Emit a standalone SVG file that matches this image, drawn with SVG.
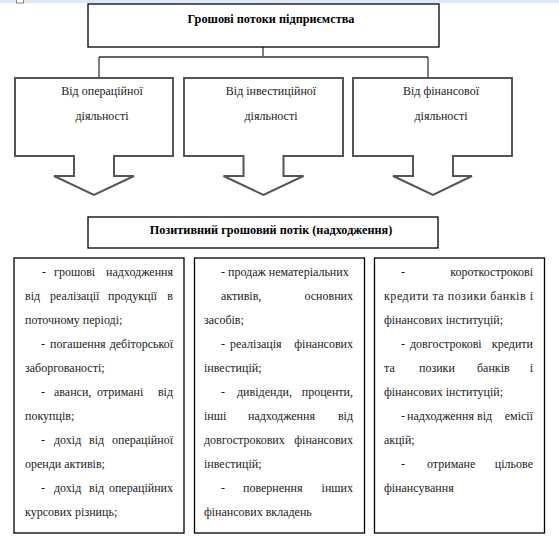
<svg xmlns="http://www.w3.org/2000/svg" width="559" height="543" viewBox="0 0 559 543">
<style>
.box{fill:#fff;stroke:#000;stroke-width:1.3}
.abox{fill:#fff;stroke:#555;stroke-width:2;stroke-linejoin:miter}
text{font-family:"Liberation Serif","Times New Roman",serif;font-size:12px}
.t{fill:#1a1a1a}
.b{font-weight:bold;fill:#000;font-size:12.25px}
.c{text-anchor:middle}
.e{text-anchor:end}
</style>
<rect x="0" y="0" width="559" height="543" fill="#fff"/>
<g id="ruler">
<rect x="0" y="0" width="559" height="3" fill="#dce6f4"/>
<rect x="16.5" y="-1" width="7" height="4" fill="#fff" stroke="#888" stroke-width="1"/>
</g>
<g id="connectors" fill="none">
<line x1="263" y1="47" x2="263" y2="57" stroke="#000" stroke-width="1"/>
<line x1="99" y1="57" x2="428" y2="57" stroke="#666" stroke-width="2"/>
<line x1="99" y1="57" x2="99" y2="79" stroke="#000" stroke-width="1"/>
<line x1="428" y1="57" x2="428" y2="79" stroke="#000" stroke-width="1"/>
</g>
<g id="root">
<rect class="box" x="88" y="4" width="351" height="43"/>
<text class="b c" x="271" y="23">Грошові потоки підприємства</text>
</g>
<g id="operating">
<path class="abox" d="M15 78 H173 V156 H114 V176 H134 L94 195 L54 176 H74 V156 H15 Z"/>
<text class="t c" x="102" y="95">Від операційної</text>
<text class="t c" x="102" y="120">діяльності</text>
</g>
<g id="investing">
<path class="abox" d="M184 78 H343 V156 H283.5 V176 H303.5 L263.5 195 L223.5 176 H243.5 V156 H184 Z"/>
<text class="t c" x="271" y="95">Від інвестиційної</text>
<text class="t c" x="271" y="120">діяльності</text>
</g>
<g id="financing">
<path class="abox" d="M353 78 H512 V156 H453 V176 H472 L433 195 L393 176 H413 V156 H353 Z"/>
<text class="t c" x="441" y="95">Від фінансової</text>
<text class="t c" x="441" y="120">діяльності</text>
</g>
<g id="positive">
<rect class="box" x="88" y="217" width="350" height="31"/>
<text class="b c" x="271" y="234">Позитивний грошовий потік (надходження)</text>
</g>
<g id="col-operating">
<rect class="box" x="14" y="258" width="170" height="275"/>
<text class="t" y="276"><tspan x="42">-</tspan><tspan x="54">грошові</tspan></text><text class="t e" x="173" y="276">надходження</text>
<text class="t" y="300"><tspan x="25">від</tspan><tspan x="50">реалізації</tspan><tspan x="108">продукції</tspan></text><text class="t e" x="173" y="300">в</text>
<text class="t" y="324" x="25">поточному періоді;</text>
<text class="t" y="348"><tspan x="41">-</tspan><tspan x="50">погашення</tspan></text><text class="t e" x="173" y="348">дебіторської</text>
<text class="t" y="372" x="25">заборгованості;</text>
<text class="t" y="396"><tspan x="41">-</tspan><tspan x="54">аванси,</tspan><tspan x="97">отримані</tspan></text><text class="t e" x="173" y="396">від</text>
<text class="t" y="420" x="25">покупців;</text>
<text class="t" y="444"><tspan x="41">-</tspan><tspan x="54">дохід</tspan><tspan x="89">від</tspan></text><text class="t e" x="173" y="444">операційної</text>
<text class="t" y="468" x="25">оренди активів;</text>
<text class="t" y="492"><tspan x="41">-</tspan><tspan x="54">дохід</tspan><tspan x="89">від</tspan></text><text class="t e" x="173" y="492">операційних</text>
<text class="t" y="516" x="25">курсових різниць;</text>
</g>
<g id="col-investing">
<rect class="box" x="194.5" y="258" width="170" height="275"/>
<text class="t" y="276" x="221">- продаж нематеріальних</text>
<text class="t" y="300" x="221">активів,</text><text class="t e" x="353" y="300">основних</text>
<text class="t" y="324" x="204">засобів;</text>
<text class="t" y="348"><tspan x="221">-</tspan><tspan x="230">реалізація</tspan></text><text class="t e" x="353" y="348">фінансових</text>
<text class="t" y="372" x="204">інвестицій;</text>
<text class="t" y="396"><tspan x="221">-</tspan><tspan x="237">дивіденди,</tspan></text><text class="t e" x="353" y="396">проценти,</text>
<text class="t" y="420"><tspan x="204">інші</tspan><tspan x="248">надходження</tspan></text><text class="t e" x="353" y="420">від</text>
<text class="t" y="444" x="204">довгострокових</text><text class="t e" x="353" y="444">фінансових</text>
<text class="t" y="468" x="204">інвестицій;</text>
<text class="t" y="492"><tspan x="221">-</tspan><tspan x="243">повернення</tspan></text><text class="t e" x="353" y="492">інших</text>
<text class="t" y="516" x="204">фінансових вкладень</text>
</g>
<g id="col-financing">
<rect class="box" x="374.5" y="258" width="170" height="275"/>
<text class="t" y="276" x="401">-</text><text class="t e" x="533" y="276">короткострокові</text>
<text class="t" y="300" x="384" textLength="149" lengthAdjust="spacing">кредити та позики банків і</text>
<text class="t" y="324" x="384">фінансових інституцій;</text>
<text class="t" y="348"><tspan x="401">-</tspan><tspan x="410">довгострокові</tspan></text><text class="t e" x="533" y="348">кредити</text>
<text class="t" y="372"><tspan x="384">та</tspan><tspan x="419">позики</tspan><tspan x="477">банків</tspan></text><text class="t e" x="533" y="372">і</text>
<text class="t" y="396" x="384">фінансових інституцій;</text>
<text class="t" y="420"><tspan x="401">-</tspan><tspan x="407">надходження</tspan><tspan x="477">від</tspan></text><text class="t e" x="533" y="420">емісії</text>
<text class="t" y="444" x="384">акцій;</text>
<text class="t" y="468"><tspan x="401">-</tspan><tspan x="427">отримане</tspan></text><text class="t e" x="533" y="468">цільове</text>
<text class="t" y="492" x="384">фінансування</text>
</g>
</svg>
